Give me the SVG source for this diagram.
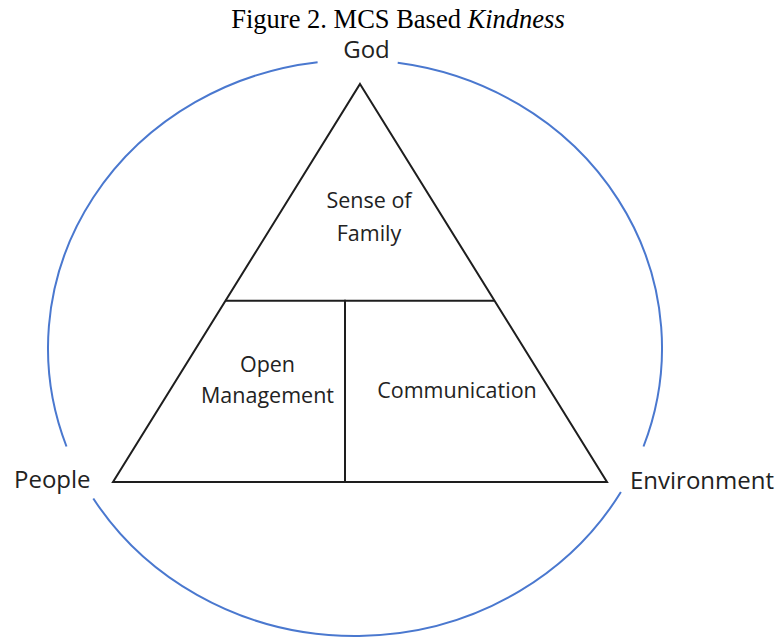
<svg xmlns="http://www.w3.org/2000/svg" width="777" height="640" viewBox="0 0 777 640">
  <style>
    .title { font-family: "Liberation Serif", "Times New Roman", serif; font-size: 26.5px; fill: #000; }
    .outer { font-family: "Open Sans", "Liberation Sans", sans-serif; font-size: 24px; fill: #222; }
    .inner { font-family: "Open Sans", "Liberation Sans", sans-serif; font-size: 21.5px; fill: #222; text-anchor: middle; }
    .ring { fill: none; stroke: #4a78cf; stroke-width: 2; }
    .edge { fill: none; stroke: #1e1e1e; stroke-width: 2; stroke-linecap: square; }
  </style>
  <rect width="777" height="640" fill="#fff"/>

  <text class="title" x="398" y="28" text-anchor="middle">Figure 2. MCS Based <tspan font-style="italic">Kindness</tspan></text>

  <!-- outer ring, broken where the three corner labels sit -->
  <g id="ring">
    <path class="ring" d="M317.6,62.2 A307,288 0 0 0 66.5,446.5"/>
    <path class="ring" d="M397.7,62.8 A307,288 0 0 1 643.5,446.5"/>
    <path class="ring" d="M620.9,492 A307,288 0 0 1 93.3,498.5"/>
  </g>

  <g id="god"><text class="outer" x="366.5" y="58" text-anchor="middle">God</text></g>
  <g id="people"><text class="outer" x="14" y="488">People</text></g>
  <g id="environment"><text class="outer" x="630" y="489">Environment</text></g>

  <!-- pyramid outline and its inner divisions -->
  <g id="connectors">
    <polygon class="edge" points="360,84 607,482 113,482"/>
    <line class="edge" x1="226" y1="300.7" x2="493" y2="300.7"/>
    <line class="edge" x1="345" y1="300.7" x2="345" y2="482"/>
  </g>

  <g id="sense-of-family">
    <text class="inner" x="369" y="207.5">Sense of</text>
    <text class="inner" x="369" y="240.5">Family</text>
  </g>
  <g id="open-management">
    <text class="inner" x="267.5" y="371.5">Open</text>
    <text class="inner" x="267.5" y="403">Management</text>
  </g>
  <g id="communication">
    <text class="inner" x="457" y="398">Communication</text>
  </g>
</svg>
